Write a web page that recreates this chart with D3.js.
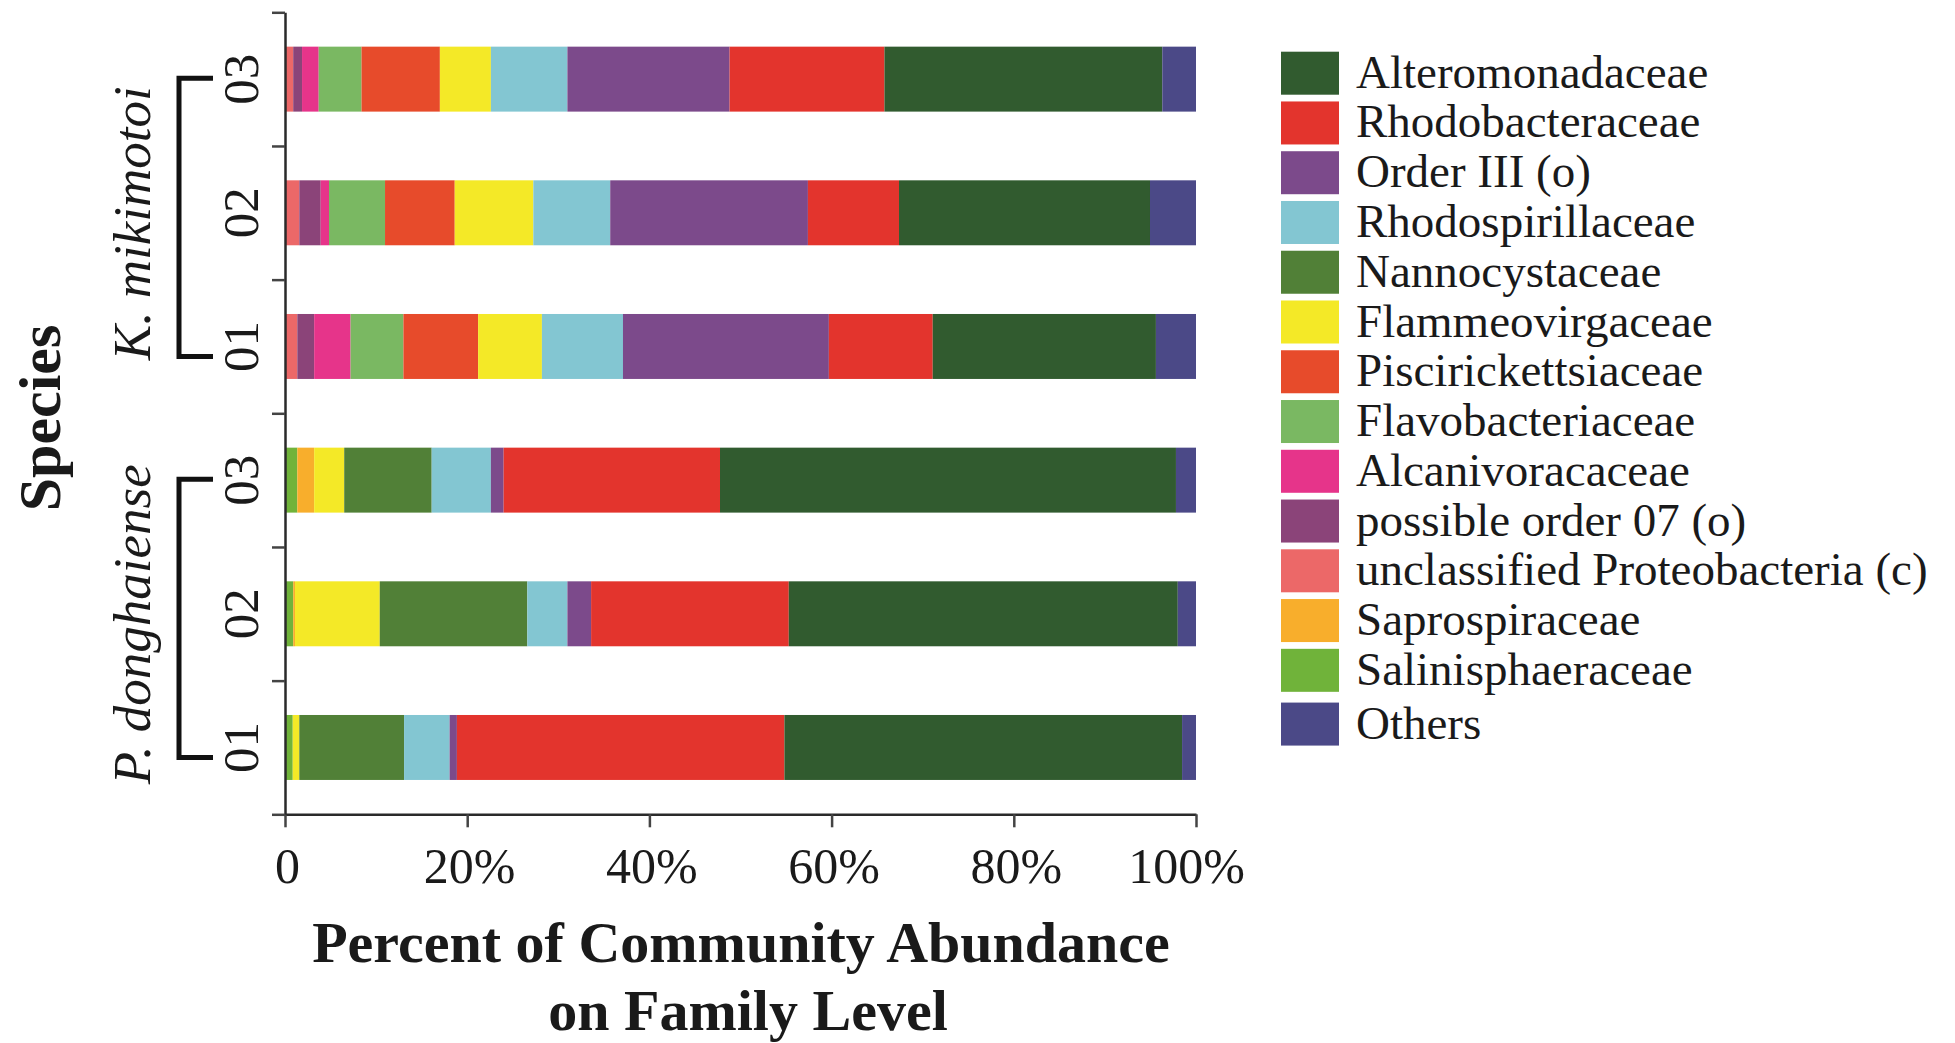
<!DOCTYPE html>
<html lang="en">
<head>
<meta charset="utf-8">
<title>Community abundance on family level</title>
<script src="https://cdn.jsdelivr.net/npm/d3@7"></script>
<style>
  body { margin: 0; background: #fff; }
  text { font-family: "Liberation Serif", "Times New Roman", serif; fill: #1a1a1a; }
</style>
</head>
<body>
<script>

// families in stacking order, left to right
var families = ["Salinisphaeraceae", "Saprospiraceae", "unclassified Proteobacteria (c)",
  "possible order 07 (o)", "Alcanivoracaceae", "Flavobacteriaceae", "Piscirickettsiaceae",
  "Flammeovirgaceae", "Nannocystaceae", "Rhodospirillaceae", "Order III (o)",
  "Rhodobacteraceae", "Alteromonadaceae", "Others"];

var colors = ["#70b33a", "#f8ae2c", "#ec6868", "#8b4479", "#e6348a", "#7ab862", "#e74b2b",
  "#f4e927", "#518037", "#83c6d2", "#7c4a8b", "#e3342d", "#315b2f", "#4b4987"];

// legend, top to bottom
var legendOrder = ["Alteromonadaceae", "Rhodobacteraceae", "Order III (o)", "Rhodospirillaceae",
  "Nannocystaceae", "Flammeovirgaceae", "Piscirickettsiaceae", "Flavobacteriaceae",
  "Alcanivoracaceae", "possible order 07 (o)", "unclassified Proteobacteria (c)",
  "Saprospiraceae", "Salinisphaeraceae", "Others"];

// samples, top to bottom
var samples = ["K03", "K02", "K01", "P03", "P02", "P01"];
var sampleLabels = ["03", "02", "01", "03", "02", "01"];

// percent per family (same order as families)
var k03 = [0, 0, 0.9, 0.97, 1.83, 4.7, 8.6, 5.6, 0, 8.4, 17.8, 17.0, 30.5, 3.7];
var k02 = [0, 0, 1.57, 2.35, 0.91, 6.15, 7.65, 8.63, 0, 8.44, 21.7, 10.0, 27.55, 5.05];
var k01 = [0, 0, 1.35, 1.85, 4.0, 5.8, 8.2, 7.0, 0, 8.9, 22.6, 11.4, 24.5, 4.4];
var p03 = [1.35, 1.85, 0, 0, 0, 0, 0, 3.3, 9.6, 6.5, 1.4, 23.75, 50.05, 2.2];
var p02 = [0.9, 0.2, 0, 0, 0, 0, 0, 9.3, 16.2, 4.4, 2.6, 21.7, 42.7, 2.0];
var p01 = [0.85, 0, 0, 0, 0, 0, 0, 0.72, 11.5, 5.0, 0.8, 35.95, 43.65, 1.53];

var groups = [
  { name: "K. mikimotoi", members: ["K03", "K02", "K01"] },
  { name: "P. donghaiense", members: ["P03", "P02", "P01"] }
];

var xTicks = [0, 20, 40, 60, 80, 100];

//Width and height
var w = 1955;
var h = 1043;

var svg = d3.select("body").append("svg")
  .attr("width", w)
  .attr("height", h);

// build table for d3.stack
var rows = [k03, k02, k01, p03, p02, p01];
var table = samples.map(function(s, i) {
  var r = { sample: s };
  families.forEach(function(f, j) { r[f] = rows[i][j]; });
  return r;
});

var x = d3.scaleLinear().domain([0, 100]).range([285, 1196]);
var y = d3.scaleBand().domain(samples).range([12.3, 814.3])
  .paddingInner(0.514).paddingOuter(0.257);
var yEdge = d3.scaleLinear().domain([0, samples.length]).range([814.3, 12.3]);
var color = d3.scaleOrdinal().domain(families).range(colors);

var series = d3.stack().keys(families)(table);

// bars
svg.append("g").selectAll("g")
  .data(series)
  .enter().append("g")
  .attr("fill", function(d) { return color(d.key); })
  .selectAll("rect")
  .data(function(d) { return d; })
  .enter().append("rect")
  .attr("x", function(d) { return x(d[0]); })
  .attr("y", function(d) { return y(d.data.sample); })
  .attr("width", function(d) { return x(d[1]) - x(d[0]); })
  .attr("height", y.bandwidth());

// x axis
var xAxis = svg.append("g")
  .attr("transform", "translate(0,814.3)")
  .call(d3.axisBottom(x).tickValues(xTicks).tickSize(13).tickSizeOuter(0).tickPadding(20)
    .tickFormat(function(d) { return d === 0 ? "0" : d + "%"; }));

// y axis (ticks at band edges)
var yAxis = svg.append("g")
  .attr("transform", "translate(285,0)")
  .call(d3.axisLeft(yEdge).tickValues(d3.range(samples.length + 1)).tickSize(13)
    .tickSizeOuter(0).tickFormat(""));

[xAxis, yAxis].forEach(function(a) {
  a.select(".domain").attr("stroke", "#2a2a2a").attr("stroke-width", 2.5);
  a.selectAll(".tick line").attr("stroke", "#444").attr("stroke-width", 2.5);
});
xAxis.selectAll(".tick text")
  .style("font-family", '"Liberation Serif", "Times New Roman", serif')
  .style("font-size", "50px").attr("fill", "#1a1a1a")
  .attr("dx", function(d) { return d === 100 ? -10 : 2; });

// sample labels
svg.append("g").selectAll("text")
  .data(samples)
  .enter().append("text")
  .attr("transform", function(d) {
    return "translate(258," + (y(d) + y.bandwidth() / 2) + ") rotate(-90)";
  })
  .attr("text-anchor", "middle")
  .style("font-size", "51px")
  .text(function(d, i) { return sampleLabels[i]; });

// group brackets and species names
groups.forEach(function(g) {
  var top = y(g.members[0]) + y.bandwidth() / 2 - 1;
  var bot = y(g.members[g.members.length - 1]) + y.bandwidth() / 2 + 10;
  svg.append("path")
    .attr("d", "M213," + top + "H179V" + bot + "H213")
    .attr("fill", "none")
    .attr("stroke", "#111")
    .attr("stroke-width", 5);
  svg.append("text")
    .attr("transform", "translate(150," + ((top + bot) / 2 + 6) + ") rotate(-90)")
    .attr("text-anchor", "middle")
    .style("font-size", "53px")
    .style("font-style", "italic")
    .text(g.name);
});

// y title
svg.append("text")
  .attr("transform", "translate(60,418) rotate(-90)")
  .attr("text-anchor", "middle")
  .style("font-size", "60px")
  .style("font-weight", "bold")
  .text("Species");

// x title
var xt = svg.append("text")
  .attr("text-anchor", "middle")
  .style("font-size", "58px")
  .style("font-weight", "bold");
xt.append("tspan").attr("x", 741).attr("y", 962).text("Percent of Community Abundance");
xt.append("tspan").attr("x", 748).attr("y", 1030).text("on Family Level");

// legend
var legend = svg.append("g").selectAll("g")
  .data(legendOrder)
  .enter().append("g")
  .attr("transform", function(d, i) {
    var top = 51.7 + 49.76 * i + (d === "Others" ? 4 : 0);
    return "translate(1281," + top + ")";
  });
legend.append("rect")
  .attr("width", 58)
  .attr("height", 43)
  .attr("fill", function(d) { return color(d); });
legend.append("text")
  .attr("x", 75)
  .attr("y", 36)
  .style("font-size", "47px")
  .text(function(d) { return d; });

</script>
</body>
</html>
